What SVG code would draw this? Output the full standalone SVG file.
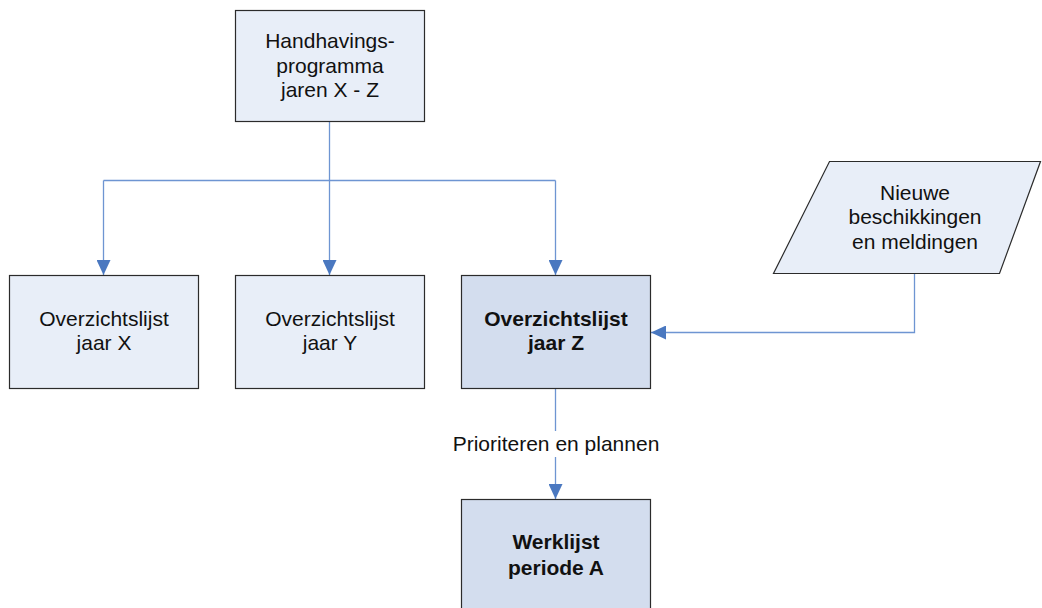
<svg xmlns="http://www.w3.org/2000/svg" width="1042" height="608" viewBox="0 0 1042 608">
<style>
.box{fill:#E8EEF8;stroke:#2b2b2b;stroke-width:1.2}
.dark{fill:#D3DDEE}
.t{font-family:"Liberation Sans",Arial,sans-serif;font-size:21px;fill:#111;text-anchor:middle}
.b{font-weight:bold}
.c{fill:none;stroke:#6E95D2;stroke-width:1.3}
</style>
<defs>
<marker id="ah" markerWidth="15" markerHeight="14" refX="15" refY="7" orient="auto" markerUnits="userSpaceOnUse">
<path d="M0,0 L15,7 L0,14 Z" fill="#4A78C0"/>
</marker>
</defs>
<rect width="1042" height="608" fill="#fff"/>
<g id="connectors">
<path class="c" d="M329.5,121 V180.5"/>
<path class="c" d="M103.5,180.5 H555.5"/>
<path class="c" d="M103.5,180.5 V275" marker-end="url(#ah)"/>
<path class="c" d="M329.5,180.5 V275" marker-end="url(#ah)"/>
<path class="c" d="M555.5,180.5 V275" marker-end="url(#ah)"/>
<path class="c" d="M914.5,273 V332.5 H651" marker-end="url(#ah)"/>
<path class="c" d="M555.5,388 V499" marker-end="url(#ah)"/>
<rect x="450" y="431" width="212" height="26" fill="#fff"/>
<text class="t" x="556" y="451">Prioriteren en plannen</text>
</g>
<g id="handhavingsprogramma">
<rect class="box" x="235.5" y="10.5" width="189" height="111"/>
<text class="t" x="330" y="48">Handhavings-</text>
<text class="t" x="330" y="72.5">programma</text>
<text class="t" x="330" y="97">jaren X - Z</text>
</g>
<g id="lijst-x">
<rect class="box" x="9.5" y="275.5" width="189" height="113"/>
<text class="t" x="104" y="326">Overzichtslijst</text>
<text class="t" x="104" y="350">jaar X</text>
</g>
<g id="lijst-y">
<rect class="box" x="235.5" y="275.5" width="189" height="113"/>
<text class="t" x="330" y="326">Overzichtslijst</text>
<text class="t" x="330" y="350">jaar Y</text>
</g>
<g id="lijst-z">
<rect class="box dark" x="461.5" y="275.5" width="189" height="113"/>
<text class="t b" x="556" y="326">Overzichtslijst</text>
<text class="t b" x="556" y="350">jaar Z</text>
</g>
<g id="nieuwe">
<polygon class="box" points="829.5,161.5 1040.5,161.5 999.5,273.5 773.5,273.5"/>
<text class="t" x="915" y="200">Nieuwe</text>
<text class="t" x="915" y="224">beschikkingen</text>
<text class="t" x="915" y="249">en meldingen</text>
</g>
<g id="werklijst">
<rect class="box dark" x="461.5" y="499.5" width="189" height="115"/>
<text class="t b" x="556" y="549">Werklijst</text>
<text class="t b" x="556" y="575">periode A</text>
</g>
</svg>
